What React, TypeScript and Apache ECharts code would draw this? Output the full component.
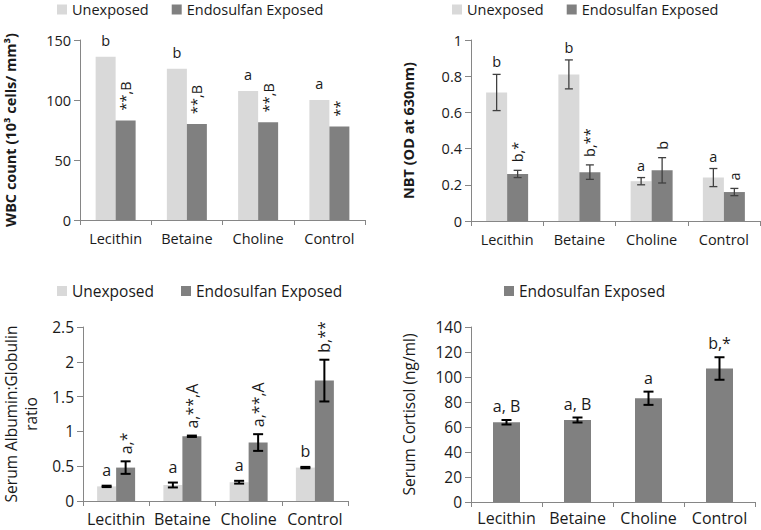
import React, { useEffect, useRef } from 'react';
import * as echarts from 'echarts';

const categories = ['Lecithin', 'Betaine', 'Choline', 'Control'];

// Panel 1: WBC count
const wbcUnexposed = [136, 126, 107.5, 100];
const wbcExposed = [83, 80, 81.5, 78];
const wbcUnexposedMarks = ['b', 'b', 'a', 'a'];
const wbcExposedMarks = ['**,B', '**,B', '**,B', '**'];

// Panel 2: NBT
const nbtUnexposed = [0.71, 0.81, 0.22, 0.24];
const nbtUnexposedErr = [0.1, 0.08, 0.02, 0.05];
const nbtExposed = [0.26, 0.27, 0.28, 0.16];
const nbtExposedErr = [0.02, 0.04, 0.07, 0.02];
const nbtUnexposedMarks = ['b', 'b', 'a', 'a'];
const nbtExposedMarks = ['b,*', 'b,**', 'b', 'a'];

// Panel 3: Albumin:Globulin ratio
const agUnexposed = [0.21, 0.23, 0.27, 0.48];
const agUnexposedErr = [0.01, 0.035, 0.02, 0.01];
const agExposed = [0.48, 0.93, 0.84, 1.73];
const agExposedErr = [0.09, 0.01, 0.12, 0.3];
const agUnexposedMarks = ['a', 'a', 'a', 'b'];
const agExposedMarks = ['a,*', 'a,**,A', 'a,**,A', 'b,**'];

// Panel 4: Cortisol
const cortisolExposed = [63.8, 65.6, 83, 106.8];
const cortisolErr = [1.8, 2, 5.3, 9];
const cortisolMarks = ['a, B', 'a, B', 'a', 'b,*'];

const LIGHT = '#d9d9d9';
const DARK = '#808080';
const TEXT = '#1a1a1a';
const AXIS = '#868686';
const FONT = '"Open Sans", "DejaVu Sans", sans-serif';

type MarkOpts = {
  offset: number;
  rotated: boolean;
  gap: number;
  fontSize: number;
  errColor: string;
  errWidth: number;
  cap: number;
};

function markSeries(
  idx: number,
  values: number[],
  errs: number[] | null,
  marks: string[],
  o: MarkOpts
) {
  return {
    type: 'custom',
    name: 'marks' + idx + '_' + o.offset,
    xAxisIndex: idx,
    yAxisIndex: idx,
    z: 10,
    silent: true,
    encode: { x: 0, y: 1 },
    data: values.map((v, i) => [i, v, errs ? errs[i] : 0]),
    renderItem: (params: any, api: any) => {
      const i = api.value(0);
      const v = api.value(1);
      const e = api.value(2);
      const c = api.coord([i, v]);
      const x = c[0] + o.offset;
      const yTop = api.coord([i, v + e])[1];
      const yBot = api.coord([i, v - e])[1];
      const children: any[] = [];
      const ls = { stroke: o.errColor, lineWidth: o.errWidth };
      if (e > 0) {
        children.push({ type: 'line', shape: { x1: x, y1: yTop, x2: x, y2: yBot }, style: ls });
        children.push({ type: 'line', shape: { x1: x - o.cap, y1: yTop, x2: x + o.cap, y2: yTop }, style: ls });
        children.push({ type: 'line', shape: { x1: x - o.cap, y1: yBot, x2: x + o.cap, y2: yBot }, style: ls });
      }
      const anchor = e > 0 ? yTop : c[1];
      const text = marks[params.dataIndex];
      if (o.rotated) {
        children.push({
          type: 'text',
          x: x,
          y: anchor - o.gap,
          rotation: Math.PI / 2,
          style: { text, fill: TEXT, fontSize: o.fontSize, fontFamily: FONT, align: 'left', verticalAlign: 'middle' },
        });
      } else {
        children.push({
          type: 'text',
          x: x,
          y: anchor - o.gap,
          style: { text, fill: TEXT, fontSize: o.fontSize, fontFamily: FONT, align: 'center', verticalAlign: 'bottom' },
        });
      }
      return { type: 'group', children };
    },
  };
}

function xAxis(idx: number, fontSize: number, margin: number) {
  return {
    type: 'category',
    gridIndex: idx,
    data: categories,
    axisLine: { show: true, lineStyle: { color: AXIS, width: 1 } },
    axisTick: { show: true, length: 5, lineStyle: { color: AXIS } },
    axisLabel: { color: TEXT, fontSize, fontFamily: FONT, margin, interval: 0 },
    splitLine: { show: false },
  };
}

function yAxis(
  idx: number,
  max: number,
  interval: number,
  name: string,
  nameGap: number,
  nameSize: number,
  bold: boolean,
  labelSize: number,
  lineHeight?: number
) {
  return {
    type: 'value',
    gridIndex: idx,
    min: 0,
    max,
    interval,
    name,
    nameLocation: 'middle',
    nameRotate: 90,
    nameGap,
    nameTextStyle: {
      color: TEXT,
      fontSize: nameSize,
      fontFamily: FONT,
      fontWeight: bold ? 'bold' : 'normal',
      lineHeight: lineHeight,
    },
    axisLine: { show: true, lineStyle: { color: AXIS, width: 1 } },
    axisTick: { show: true, length: 6, lineStyle: { color: AXIS } },
    axisLabel: { color: TEXT, fontSize: labelSize, fontFamily: FONT, margin: 9 },
    splitLine: { show: false },
  };
}

function bar(idx: number, name: string, data: number[], color: string, width: number) {
  return {
    type: 'bar',
    name,
    xAxisIndex: idx,
    yAxisIndex: idx,
    data,
    barWidth: width,
    barGap: '0%',
    itemStyle: { color },
  };
}

export default function App() {
  const ref = useRef<HTMLDivElement>(null);
  useEffect(() => {
    document.body.style.margin = '0';
    if (!ref.current) return;
    const chart = echarts.init(ref.current, undefined, { renderer: 'svg' });

    const topMark = { fontSize: 14.5, errColor: '#404040', errWidth: 1.3, cap: 4 };
    const botMark = { fontSize: 16, errColor: '#000000', errWidth: 2, cap: 5 };

    const legendCommon = {
      icon: 'rect',
      itemWidth: 10,
      itemHeight: 10,
      padding: 0,
      selectedMode: false,
      orient: 'horizontal',
    };

    chart.setOption({
      animation: false,
      backgroundColor: '#ffffff',
      legend: [
        { ...legendCommon, left: 57, top: 2, itemGap: 23, data: ['Unexposed', 'Endosulfan Exposed'], textStyle: { color: TEXT, fontSize: 14.5, fontFamily: FONT } },
        { ...legendCommon, left: 452, top: 2, itemGap: 23, data: ['Unexposed', 'Endosulfan Exposed'], textStyle: { color: TEXT, fontSize: 14.5, fontFamily: FONT } },
        { ...legendCommon, left: 57, top: 283, itemGap: 27, data: ['Unexposed', 'Endosulfan Exposed'], textStyle: { color: TEXT, fontSize: 15.5, fontFamily: FONT } },
        { ...legendCommon, left: 504, top: 283, data: ['Endosulfan Exposed'], textStyle: { color: TEXT, fontSize: 15.5, fontFamily: FONT } },
      ],
      grid: [
        { left: 80, top: 40, width: 285, height: 180 },
        { left: 471, top: 40, width: 289, height: 181 },
        { left: 80, top: 327, width: 268, height: 174 },
        { left: 471, top: 327, width: 284, height: 175 },
      ],
      xAxis: [xAxis(0, 14.5, 11), xAxis(1, 14.5, 11), xAxis(2, 16, 10), xAxis(3, 16, 8)],
      yAxis: [
        yAxis(0, 150, 50, 'WBC count (10³ cells/ mm³)', 62, 14.5, true, 14.5),
        yAxis(1, 1, 0.2, 'NBT (OD at 630nm)', 55, 14.5, true, 14.5),
        yAxis(2, 2.5, 0.5, 'Serum Albumin:Globulin\nratio', 42, 15.5, false, 15.5, 20),
        yAxis(3, 140, 20, 'Serum Cortisol (ng/ml)', 54, 15.5, false, 15.5),
      ],
      series: [
        bar(0, 'Unexposed', wbcUnexposed, LIGHT, 20),
        bar(0, 'Endosulfan Exposed', wbcExposed, DARK, 20),
        bar(1, 'Unexposed', nbtUnexposed, LIGHT, 21),
        bar(1, 'Endosulfan Exposed', nbtExposed, DARK, 21),
        bar(2, 'Unexposed', agUnexposed, LIGHT, 19),
        bar(2, 'Endosulfan Exposed', agExposed, DARK, 19),
        bar(3, 'Endosulfan Exposed', cortisolExposed, DARK, 27),
        markSeries(0, wbcUnexposed, null, wbcUnexposedMarks, { ...topMark, offset: -10, rotated: false, gap: 9 }),
        markSeries(0, wbcExposed, null, wbcExposedMarks, { ...topMark, offset: 10, rotated: true, gap: 10 }),
        markSeries(1, nbtUnexposed, nbtUnexposedErr, nbtUnexposedMarks, { ...topMark, offset: -10.5, rotated: false, gap: 5 }),
        markSeries(1, nbtExposed, nbtExposedErr, nbtExposedMarks, { ...topMark, offset: 10.5, rotated: true, gap: 8 }),
        markSeries(2, agUnexposed, agUnexposedErr, agUnexposedMarks, { ...botMark, offset: -9.5, rotated: false, gap: 7.5 }),
        markSeries(2, agExposed, agExposedErr, agExposedMarks, { ...botMark, offset: 9.5, rotated: true, gap: 7 }),
        markSeries(3, cortisolExposed, cortisolErr, cortisolMarks, { ...botMark, offset: 0, rotated: false, gap: 6 }),
      ],
    });
    return () => chart.dispose();
  }, []);
  return (
    <div
      ref={ref}
      style={{ position: 'absolute', left: 0, top: 0, width: 761, height: 530, background: '#fff' }}
    />
  );
}
